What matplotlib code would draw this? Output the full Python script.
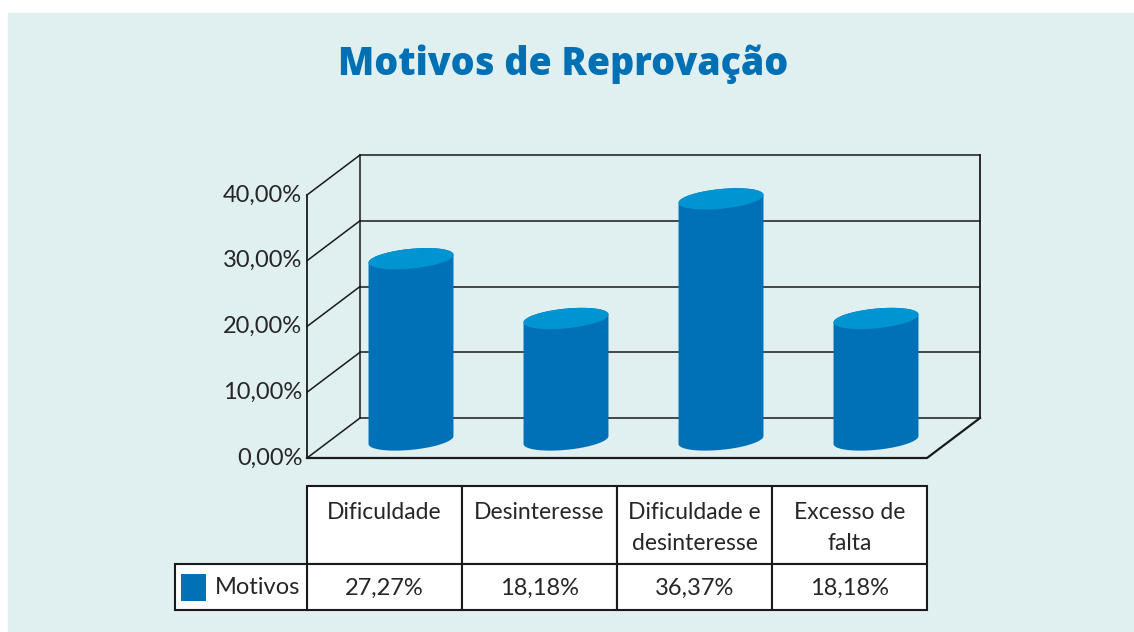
import numpy as np
import matplotlib.pyplot as plt
from matplotlib.patches import Polygon, Rectangle

# data
categories = ['Dificuldade', 'Desinteresse', 'Dificuldade e\ndesinteresse', 'Excesso de\nfalta']
values = [27.27, 18.18, 36.37, 18.18]
series_name = 'Motivos'
yticks = [0, 10, 20, 30, 40]
title = 'Motivos de Reprovação'

W, H = 1134, 632
plt.rcParams['font.family'] = ['Lato', 'DejaVu Sans']
fig = plt.figure(figsize=(W / 100, H / 100), dpi=100)

bg_color = '#e0efef'
body_color = '#0071b6'
top_color = '#0094d2'
line_color = '#1a1a1a'
text_color = '#262626'

# background panel, pixel coordinates
bg = fig.add_axes([0, 0, 1, 1])
bg.set_xlim(0, W)
bg.set_ylim(H, 0)
bg.axis('off')
bg.add_patch(Rectangle((8, 13), W - 8, H - 13, color=bg_color, zorder=0))

bg.text(563, 64, title, ha='center', va='center', fontsize=27,
        fontweight='heavy', color='#0070b5', family=['Open Sans', 'DejaVu Sans'])

# 3d-ish chart area
n = len(categories)
dx, dy = 0.342, 6.08   # depth offset (category units, percent units)
ax = fig.add_axes([307 / W, 1 - 458 / H, 673 / W, 303 / H])
ax.set_xlim(0, n + dx)
ax.set_ylim(0, max(yticks) + dy)
ax.axis('off')

for v in yticks:
    ax.plot([0, dx], [v, v + dy], color=line_color, lw=1.1, clip_on=False)
    ax.plot([dx, n + dx], [v + dy, v + dy], color=line_color, lw=1.1, clip_on=False)
    ax.text(-0.03, v, f'{v:.2f}%'.replace('.', ','), ha='right', va='center',
            fontsize=17, color=text_color)
ax.plot([0, 0], [0, max(yticks)], color=line_color, lw=1.3, clip_on=False)
ax.plot([dx, dx], [dy, max(yticks) + dy], color=line_color, lw=1.1, clip_on=False)
ax.plot([n + dx, n + dx], [dy, max(yticks) + dy], color=line_color, lw=1.3, clip_on=False)
ax.plot([0, n, n + dx], [0, 0, dy], color=line_color, lw=1.6, clip_on=False)

# cylinders
a, b, k = 0.274, 1.5, 2.2
for i, v in enumerate(values):
    cx = i + 0.5 + dx / 2
    y0 = dy / 2 - 0.3
    y1 = v + dy / 2
    t_low = np.linspace(np.pi, 2 * np.pi, 60)
    t_up = np.linspace(0, np.pi, 60)
    xl = cx + a * np.cos(t_low)
    yl = y0 + b * np.sin(t_low) + k * (xl - cx)
    xu = cx + a * np.cos(t_up)
    yu = y1 + b * np.sin(t_up) + k * (xu - cx)
    body = Polygon(np.column_stack([np.r_[xl, xu], np.r_[yl, yu]]),
                   closed=True, facecolor=body_color, edgecolor='none', zorder=3)
    ax.add_patch(body)
    t = np.linspace(0, 2 * np.pi, 120)
    xt = cx + a * np.cos(t)
    yt = y1 + b * np.sin(t) + k * (xt - cx)
    ax.add_patch(Polygon(np.column_stack([xt, yt]), closed=True,
                         facecolor=top_color, edgecolor='none', zorder=4))

# data table, pixel coordinates
col_x = [307, 462, 617, 772, 927]
row_y = [486, 564, 610]
left_x = 175
tlw = 1.5
for j in range(n):
    bg.add_patch(Rectangle((col_x[j], row_y[0]), col_x[j + 1] - col_x[j], row_y[1] - row_y[0],
                           facecolor='white', edgecolor=line_color, lw=tlw))
    bg.add_patch(Rectangle((col_x[j], row_y[1]), col_x[j + 1] - col_x[j], row_y[2] - row_y[1],
                           facecolor='white', edgecolor=line_color, lw=tlw))
    xc = (col_x[j] + col_x[j + 1]) / 2
    bg.text(xc, 502, categories[j], ha='center', va='top', fontsize=16.5,
            color=text_color, linespacing=1.6)
    bg.text(xc, 588, f'{values[j]:.2f}%'.replace('.', ','), ha='center', va='center',
            fontsize=17, color=text_color)
bg.add_patch(Rectangle((left_x, row_y[1]), col_x[0] - left_x, row_y[2] - row_y[1],
                       facecolor='white', edgecolor=line_color, lw=tlw))
bg.add_patch(Rectangle((181, 574), 25, 27, facecolor=body_color, edgecolor='none'))
bg.text(215, 588, series_name, ha='left', va='center', fontsize=17, color=text_color)

fig.savefig('out.png', dpi=100, facecolor='white')
